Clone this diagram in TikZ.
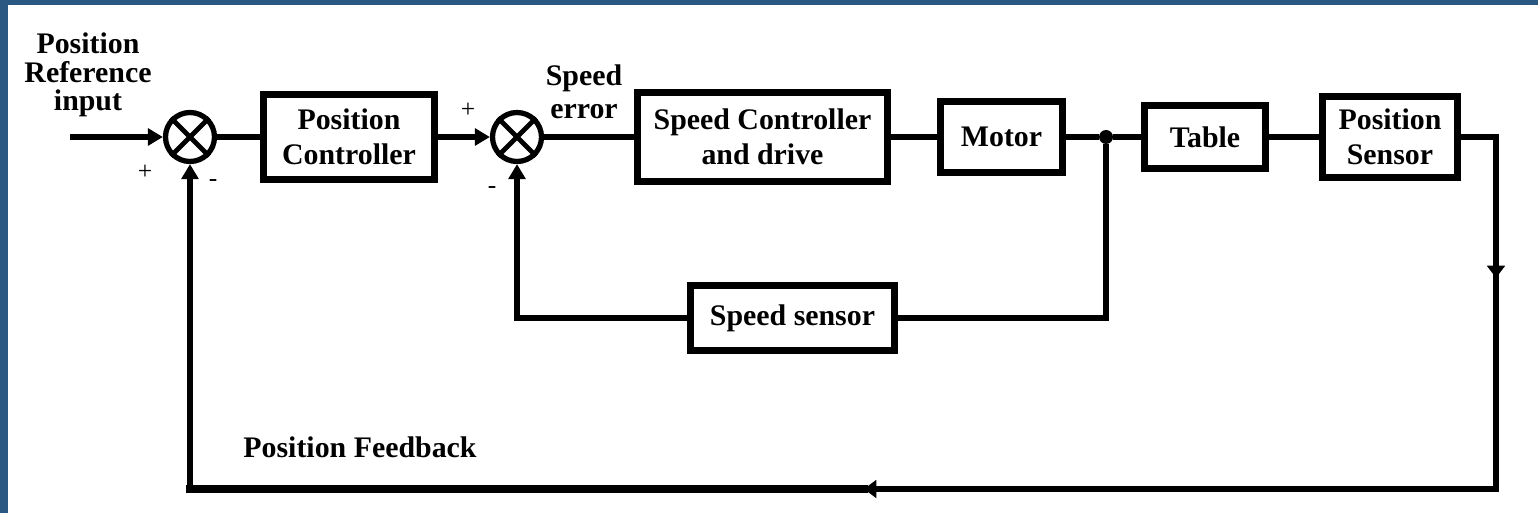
\documentclass[tikz,border=0pt]{standalone}
\usepackage{fontspec}
\setmainfont{Liberation Serif}
\usetikzlibrary{arrows.meta}
\definecolor{bordblue}{HTML}{2B5883}
\newcommand\blklabel{\fontsize{17}{19.8}\selectfont\bfseries}
\newcommand\signfont{\fontsize{14.5}{15}\selectfont}
\begin{document}
\begin{tikzpicture}[x=0.02cm,y=-0.02cm,
  blockbox/.style={draw, line width=4.2pt, inner sep=0pt, align=center, font=\blklabel},
  sumnode/.style={draw, circle, line width=3pt, minimum size=0.98cm, inner sep=0pt},
  wire/.style={line width=3.1pt},
  thickwire/.style={line width=4.4pt, line cap=rect},
  tip/.style={-{Triangle[length=8.5pt,width=9.5pt]}},
  midtip/.style={-{Triangle[length=7pt,width=10pt]}},
  lbl/.style={inner sep=0pt, align=center, font=\blklabel},
  sgn/.style={inner sep=0pt, font=\signfont}]
% background and frame
\fill[white] (0,0) rectangle (1538,513);
\fill[bordblue] (0,0) rectangle (8,513);
\fill[bordblue] (0,0) rectangle (1538,5);
\useasboundingbox (0,0) rectangle (1538,513);

% nodes
\node[lbl, font=\fontsize{17}{16.2}\selectfont\bfseries] (refin) at (88,75) {Position\\Reference\\input};
\node[sumnode] (s1) at (190,137) {};
\node[blockbox, minimum width=3.42cm, minimum height=1.70cm] (pc) at (349,137) {Position\\Controller};
\node[sumnode] (s2) at (517,137) {};
\node[lbl, font=\fontsize{17}{18.7}\selectfont\bfseries] (serr) at (584,92) {Speed\\error};
\node[blockbox, minimum width=5.0cm, minimum height=1.78cm] (sc) at (762.5,137) {Speed Controller\\and drive};
\node[blockbox, minimum width=2.44cm, minimum height=1.42cm] (mot) at (1001.5,137) {Motor};
\node[circle, fill, minimum size=0.28cm, inner sep=0pt] (jn) at (1106,137) {};
\node[blockbox, minimum width=2.42cm, minimum height=1.26cm] (tab) at (1205,137) {Table};
\node[blockbox, minimum width=2.70cm, minimum height=1.62cm] (ps) at (1390,137) {Position\\Sensor};
\node[blockbox, minimum width=4.08cm, minimum height=1.30cm] (ss) at (792.5,318) {Speed sensor};
\node[lbl] (pfb) at (360,447) {Position Feedback};

% signs
\node[sgn] (p1) at (145,172) {+};
\node[sgn] (m1) at (213,183) {-};
\node[sgn] (p2) at (468,110) {+};
\node[sgn] (m2) at (492,190) {-};

% cross in summing junctions
\draw[wire, line width=2.8pt] (s1.north west) -- (s1.south east) (s1.north east) -- (s1.south west);
\draw[wire, line width=2.8pt] (s2.north west) -- (s2.south east) (s2.north east) -- (s2.south west);

% coordinates
\coordinate (inp) at (70,137);
\coordinate (otop) at (1496,137);
\coordinate (oarrbase) at (1496,262);
\coordinate (oarr) at (1496,278);
\coordinate (bcorner) at (1496,489);
\coordinate (barrbase) at (880,489);
\coordinate (barr) at (864,489);
\coordinate (fcorner) at (190,489);

% forward path
\draw[wire, tip] (inp) -- (s1);
\draw[wire] (s1) -- (pc);
\draw[wire, tip] (pc) -- (s2);
\draw[wire] (s2) -- (sc);
\draw[wire] (sc) -- (mot);
\draw[wire] (mot) -- (jn);
\draw[wire] (jn) -- (tab);
\draw[wire] (tab) -- (ps);

% position feedback
\draw[wire, line join=miter] (ps) -- (otop) -- (bcorner) -- (barr);
\draw[wire, midtip] (oarrbase) -- (oarr);
\draw[wire, midtip] (barrbase) -- (barr);
\draw[thickwire] (barr) -- (fcorner);
\draw[wire, tip] (fcorner) -- (s1);

% speed feedback
\draw[wire, line join=miter] (jn) |- (ss);
\draw[wire, tip, line join=miter] (ss) -| (s2);
\end{tikzpicture}
\end{document}
